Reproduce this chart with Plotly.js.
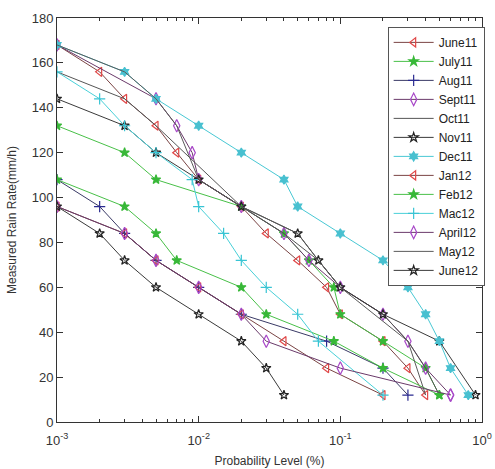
<!DOCTYPE html>
<html>
<head>
<meta charset="utf-8">
<script src="https://cdn.plot.ly/plotly-3.0.1.min.js"></script>
<style>html,body{margin:0;padding:0;background:#fff;}#chart{width:495px;height:469px;}</style>
</head>
<body>
<div id="chart"></div>
<script>
// Series data: probability level (%) and measured rain rate (mm/h)
const june11_x = [0.001,0.002,0.003,0.005,0.007,0.01,0.02,0.03,0.05,0.08,0.1,0.2,0.3,0.4];
const june11_y = [168,156,144,132,120,108,96,84,72,60,48,36,24,12];
const july11_x = [0.001,0.003,0.005,0.02,0.04,0.06,0.09,0.1,0.2,0.4,0.5];
const july11_y = [132,120,108,96,84,72,60,48,36,24,12];
const aug11_x = [0.001,0.002,0.003,0.005,0.01,0.02,0.08,0.2,0.3];
const aug11_y = [108,96,84,72,60,48,36,24,12];
const sept11_x = [0.001,0.005,0.007,0.009,0.01,0.02,0.04,0.06,0.1,0.2,0.3,0.4,0.6];
const sept11_y = [168,144,132,120,108,96,84,72,60,48,36,24,12];
const oct11_x = [0.001,0.003,0.005,0.02,0.04,0.07,0.1,0.2,0.3,0.4,0.5];
const oct11_y = [156,144,132,96,84,72,60,48,36,24,12];
const nov11_x = [0.001,0.003,0.005,0.01,0.02,0.05,0.07,0.1,0.2,0.5,0.9];
const nov11_y = [144,132,120,108,96,84,72,60,48,36,12];
const dec11_x = [0.001,0.003,0.005,0.01,0.02,0.04,0.05,0.1,0.2,0.3,0.4,0.5,0.6,0.8];
const dec11_y = [168,156,144,132,120,108,96,84,72,60,48,36,24,12];
const jan12_x = [0.001,0.003,0.005,0.01,0.02,0.04,0.08,0.2];
const jan12_y = [96,84,72,60,48,36,24,12];
const feb12_x = [0.001,0.003,0.005,0.007,0.02,0.03,0.09,0.2,0.5];
const feb12_y = [108,96,84,72,60,48,36,24,12];
const mac12_x = [0.001,0.002,0.003,0.005,0.009,0.01,0.015,0.02,0.03,0.05,0.07,0.2];
const mac12_y = [156,144,132,120,108,96,84,72,60,48,36,12];
const april12_x = [0.001,0.003,0.005,0.01,0.02,0.03,0.1,0.6];
const april12_y = [96,84,72,60,48,36,24,12];
const may12_x = [0.001,0.003,0.005,0.007,0.01,0.02,0.05,0.07,0.1,0.3,0.4];
const may12_y = [168,156,144,132,108,96,84,72,60,36,12];
const june12_x = [0.001,0.002,0.003,0.005,0.01,0.02,0.03,0.04];
const june12_y = [96,84,72,60,48,36,24,12];

const names = ['June11','July11','Aug11','Sept11','Oct11','Nov11','Dec11','Jan12','Feb12','Mac12','April12','May12','June12'];
const xs = [june11_x,july11_x,aug11_x,sept11_x,oct11_x,nov11_x,dec11_x,jan12_x,feb12_x,mac12_x,april12_x,may12_x,june12_x];
const ys = [june11_y,july11_y,aug11_y,sept11_y,oct11_y,nov11_y,dec11_y,jan12_y,feb12_y,mac12_y,april12_y,may12_y,june12_y];

const styles = [
  {lc:'#7a4444', m:'triangle-left-open', mc:'#e04848', ms:8},
  {lc:'#48c048', m:'star', mc:'#38b838', ms:7},
  {lc:'#3a3a66', m:'cross-thin-open', mc:'#2a2a90', ms:8},
  {lc:'#6a3a6a', m:'diamond-tall-open', mc:'#a848c8', ms:9},
  {lc:'#555555', m:null},
  {lc:'#3a3a3a', m:'star-open', mc:'#222222', ms:7},
  {lc:'#48c8d4', m:'hexagram', mc:'#48c0d0', ms:7},
  {lc:'#7a4444', m:'triangle-left-open', mc:'#e04848', ms:8},
  {lc:'#48c048', m:'star', mc:'#38b838', ms:7},
  {lc:'#48d0d8', m:'cross-thin-open', mc:'#38c4d4', ms:8},
  {lc:'#6a3a6a', m:'diamond-tall-open', mc:'#a848c8', ms:9},
  {lc:'#5a5a5a', m:null},
  {lc:'#3a3a3a', m:'star-open', mc:'#222222', ms:7}
];

const traces = names.map((n,i) => {
  const s = styles[i];
  const t = {x: xs[i], y: ys[i], name: n, type:'scatter',
    mode: s.m ? 'lines+markers' : 'lines',
    line: {color: s.lc, width: 1}};
  if (s.m) t.marker = {symbol: s.m, color: s.mc, size: s.ms, line:{color: s.mc, width: 1.2}};
  return t;
});

const xTickVals = [0.001,0.01,0.1,1];
const xTickText = ['10<sup>-3</sup>','10<sup>-2</sup>','10<sup>-1</sup>','10<sup>0</sup>'];
const xMinor = [];
[0.001,0.01,0.1].forEach(d => { for (let k=2;k<=9;k++) xMinor.push(d*k); });

const layout = {
  width:495, height:469,
  margin:{l:57, r:10, t:18, b:47},
  paper_bgcolor:'#fff', plot_bgcolor:'#fff',
  font:{family:'Liberation Sans Narrow, Liberation Sans, Arial, sans-serif', size:12, color:'#333'},
  showlegend:true,
  xaxis:{type:'log', range:[-3,0], tickvals:xTickVals, ticktext:xTickText,
    ticks:'inside', ticklen:6, tickcolor:'#333', showline:true, linecolor:'#333', linewidth:1,
    mirror:'ticks', showgrid:false, zeroline:false, ticklabelstandoff:6,
    minor:{tickvals:xMinor, ticks:'inside', ticklen:3, tickcolor:'#333', showgrid:false},
    tickfont:{size:13, color:'#333'},
    title:{text:'Probability Level (%)', font:{size:12, color:'#333'}, standoff:10}},
  yaxis:{range:[0,180], dtick:20, tick0:0, ticks:'inside', ticklen:6, tickcolor:'#333',
    showline:true, linecolor:'#333', linewidth:1, mirror:'ticks', showgrid:false, zeroline:false,
    tickfont:{size:13, color:'#333'},
    title:{text:'Measured Rain Rate(mm/h)', font:{size:12, color:'#333'}, standoff:12}},
  legend:{x:0.778, y:0.978, xanchor:'left', yanchor:'top', bgcolor:'#fff',
    bordercolor:'#555', borderwidth:1, font:{size:12, color:'#222'}, tracegroupgap:0,
    itemwidth:40}
};

Plotly.newPlot('chart', traces, layout, {displayModeBar:false, staticPlot:true});
</script>
</body>
</html>
